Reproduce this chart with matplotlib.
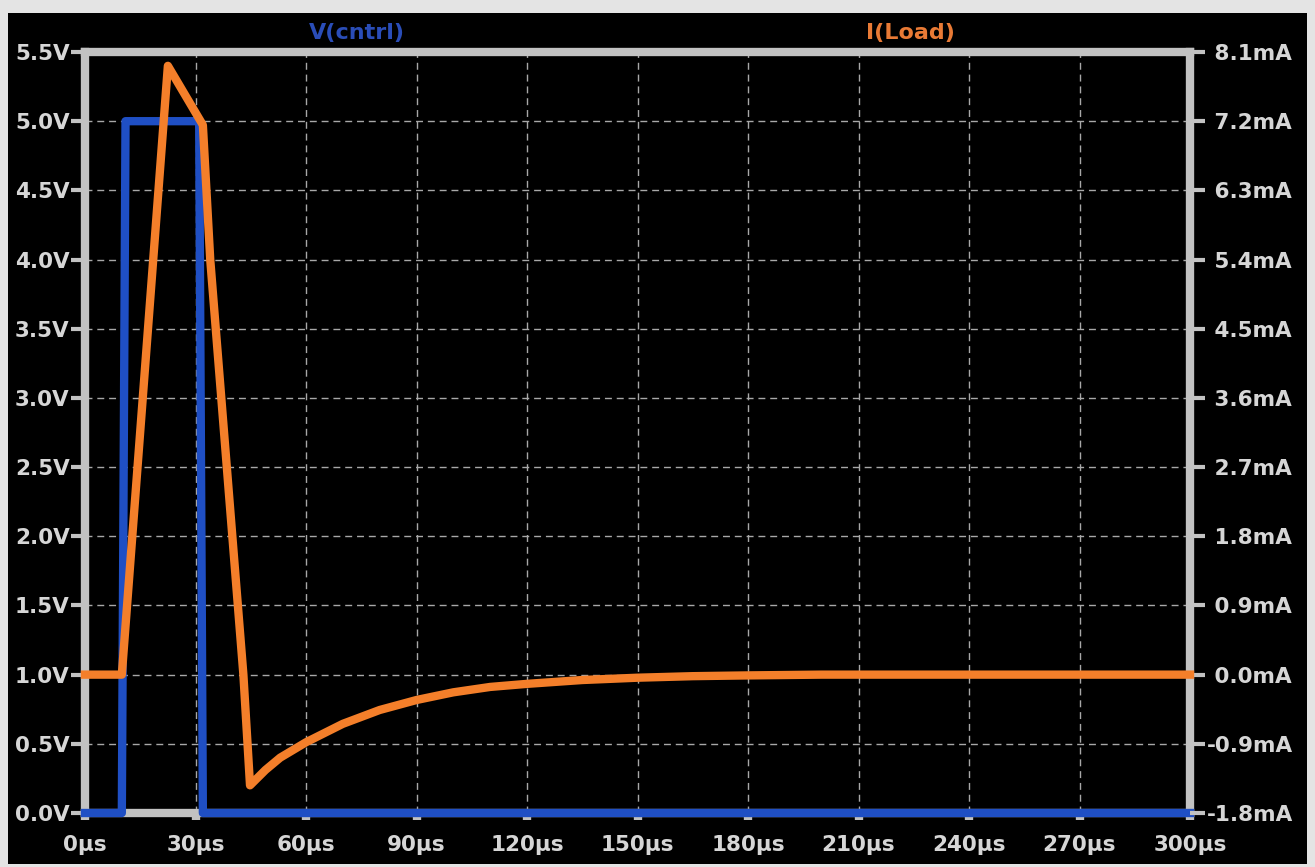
import matplotlib.pyplot as plt
from matplotlib.patches import Rectangle

# transient sim results, time in us
t_cntrl = [0, 10, 11, 31, 32, 300]
v_cntrl = [0, 0, 5.0, 5.0, 0, 0]

t_load = [0, 10, 22.5, 32, 34, 37, 40, 43, 44.8, 49, 53, 60, 70, 80, 90,
          100, 110, 120, 135, 150, 165, 180, 200, 300]
i_load = [0, 0, 7.92, 7.15, 5.4, 3.6, 1.8, 0.0, -1.44, -1.24, -1.08, -0.88,
          -0.64, -0.46, -0.33, -0.23, -0.16, -0.12, -0.07, -0.04, -0.02,
          -0.01, 0, 0]

time_ticks = [0, 30, 60, 90, 120, 150, 180, 210, 240, 270, 300]
volt_ticks = [0.0, 0.5, 1.0, 1.5, 2.0, 2.5, 3.0, 3.5, 4.0, 4.5, 5.0, 5.5]
amp_ticks = [-1.8, -0.9, 0.0, 0.9, 1.8, 2.7, 3.6, 4.5, 5.4, 6.3, 7.2, 8.1]

BLUE = '#1f4fc4'
ORANGE = '#f47f2a'
FRAME = '#c2c2c2'
TEXT = '#d6d6d6'

plt.rcParams['font.family'] = 'DejaVu Sans'
plt.rcParams['font.weight'] = 'bold'

fig = plt.figure(figsize=(13.15, 8.67), dpi=100, facecolor='#e4e4e4')
# black window area inside the light border
fig.patches.append(Rectangle((8 / 1315, 3 / 867), 1299 / 1315, 851 / 867,
                             transform=fig.transFigure, facecolor='black',
                             edgecolor='none', zorder=-10))

ax = fig.add_axes([85 / 1315, 1 - 813 / 867, 1105 / 1315, 761 / 867])
ax.set_facecolor('black')
ax.plot(t_cntrl, v_cntrl, color=BLUE, lw=6, zorder=3, clip_on=False)
ax.set_xlim(0, 300)
ax.set_ylim(0, 5.5)
ax.set_xticks(time_ticks)
ax.set_xticklabels(['%dµs' % t for t in time_ticks])
ax.set_yticks(volt_ticks)
ax.set_yticklabels(['%.1fV' % v for v in volt_ticks])
ax.grid(True, color='#a8a8a8', linestyle=(0, (5, 3.5)), linewidth=1.0)
for s in ax.spines.values():
    s.set_color(FRAME)
    s.set_linewidth(6)
ax.tick_params(axis='y', direction='out', length=10, width=3, color=FRAME,
               labelcolor=TEXT, labelsize=15.5, pad=1)
ax.tick_params(axis='x', direction='out', length=5, width=6, color=FRAME,
               labelcolor=TEXT, labelsize=15.5, pad=11)

ax2 = ax.twinx()
ax2.plot(t_load, i_load, color=ORANGE, lw=6, zorder=3, clip_on=False)
ax2.set_ylim(-1.8, 8.1)
ax2.set_yticks(amp_ticks)
ax2.set_yticklabels([('%.1fmA' % a) if a < 0 else (' %.1fmA' % a) for a in amp_ticks])
for s in ax2.spines.values():
    s.set_visible(False)
ax2.tick_params(axis='y', direction='out', length=11, width=3, color=FRAME,
                labelcolor=TEXT, labelsize=15.5, pad=1)

fig.text(357 / 1315, 1 - 33 / 867, 'V(cntrl)', color='#2a4db8', fontsize=16,
         fontweight='bold', ha='center', va='center')
fig.text(910 / 1315, 1 - 33 / 867, 'I(Load)', color='#e97a35', fontsize=16,
         fontweight='bold', ha='center', va='center')

plt.savefig('out.png', dpi=100, facecolor=fig.get_facecolor())
